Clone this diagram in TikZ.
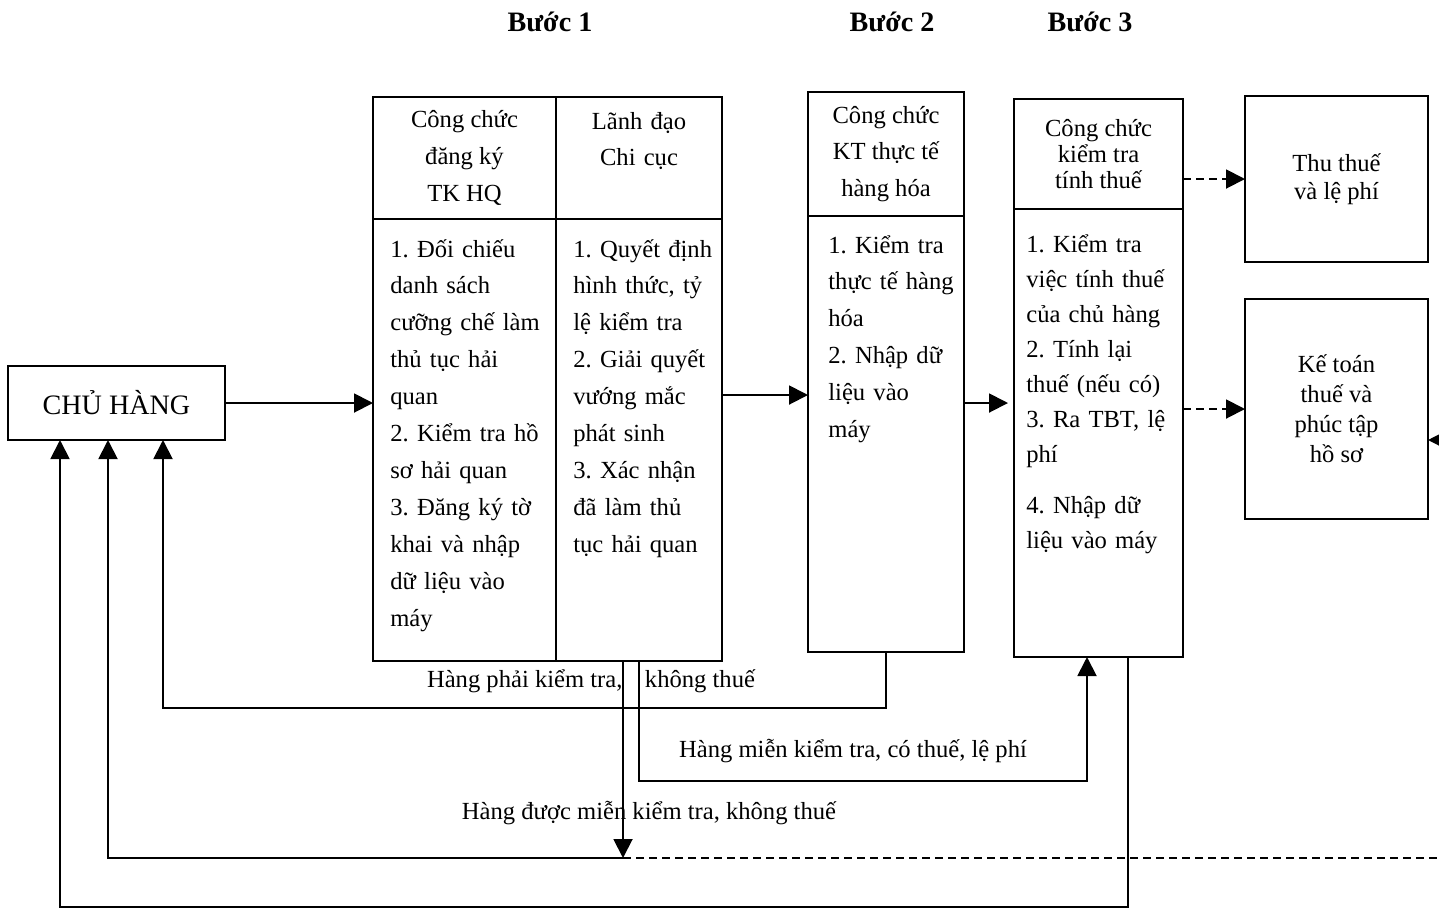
\documentclass[tikz,border=0pt]{standalone}
\usepackage{fontspec}
\setmainfont{Liberation Serif}
\usepackage{tikz}
\usetikzlibrary{arrows.meta,positioning}
\frenchspacing
\tikzset{
    cell/.style={rectangle, draw, line width=1.1pt, inner sep=0pt, outer sep=0pt},
    hdr/.style={align=center},
    bodytext/.style={align=left, text width=36mm, inner sep=0pt, anchor=base west},
    note/.style={inner sep=0pt, anchor=base},
    steptitle/.style={font=\fontsize{16}{19}\selectfont\bfseries},
    flow/.style={-{Triangle[length=3.8mm, width=3.8mm]}, line width=1.1pt},
    dflow/.style={line width=1.1pt, dash pattern=on 1.6mm off 1mm},
}

\begin{document}
\begin{tikzpicture}[x=0.2mm, y=-0.2mm, font=\fontsize{14}{21}\selectfont\frenchspacing]
    \useasboundingbox (0,0) rectangle (1439,910);

    % step titles
    \node[steptitle] (b1) at (550,22) {Bước 1};
    \node[steptitle] (b2) at (892,22) {Bước 2};
    \node[steptitle] (b3) at (1090,22) {Bước 3};

    \node[cell, anchor=north west, minimum width=43.4mm, minimum height=14.8mm, font=\fontsize{16}{19}\selectfont] (chu) at (8,366) {CHỦ HÀNG};

    % step 1
    \node[cell, hdr, anchor=north west, minimum width=36.6mm, minimum height=24.4mm] (s1hA) at (373,97) {Công chức\\đăng ký\\TK HQ};
    \node[cell, right=0pt of s1hA, minimum width=33.2mm, minimum height=24.4mm] (s1hB) {};
    \node[cell, below=0pt of s1hA, minimum width=36.6mm, minimum height=88.4mm] (s1bA) {};
    \node[cell, below=0pt of s1hB, minimum width=33.2mm, minimum height=88.4mm] (s1bB) {};
    \node[hdr, text width=30mm, inner sep=0pt, anchor=base] (s1tB) at (639,129) {Lãnh đạo\\Chi cục};
    \node[bodytext] (s1bodyA) at (390,257) {1. Đối chiếu\\danh sách\\cưỡng chế làm\\thủ tục hải\\quan\\2. Kiểm tra hồ\\sơ hải quan\\3. Đăng ký tờ\\khai và nhập\\dữ liệu vào\\máy};
    \node[bodytext] (s1bodyB) at (573,257) {1. Quyết định\\hình thức, tỷ\\lệ kiểm tra\\2. Giải quyết\\vướng mắc\\phát sinh\\3. Xác nhận\\đã làm thủ\\tục hải quan};

    % step 2
    \node[cell, hdr, anchor=north west, minimum width=31.2mm, minimum height=24.8mm] (s2h) at (808,92) {Công chức\\KT thực tế\\hàng hóa};
    \node[cell, below=0pt of s2h, minimum width=31.2mm, minimum height=87.2mm] (s2b) {};
    \node[bodytext] (s2body) at (828,253) {1. Kiểm tra\\thực tế hàng\\hóa\\2. Nhập dữ\\liệu vào\\máy};

    % step 3
    \node[cell, hdr, anchor=north west, minimum width=33.8mm, minimum height=22mm, font=\fontsize{14}{15}\selectfont] (s3h) at (1014,99) {Công chức\\kiểm tra\\tính thuế};
    \node[cell, below=0pt of s3h, minimum width=33.8mm, minimum height=89.6mm] (s3b) {};
    \node[bodytext, font=\fontsize{14}{20}\selectfont] (s3body) at (1026,252) {1. Kiểm tra\\việc tính thuế\\của chủ hàng\\2. Tính lại\\thuế (nếu có)\\3. Ra TBT, lệ\\phí\\[3mm]4. Nhập dữ\\liệu vào máy};

    \node[cell, hdr, anchor=north west, minimum width=36.6mm, minimum height=33.2mm, font=\fontsize{14}{16}\selectfont] (thu) at (1245,96) {Thu thuế\\và lệ phí};
    \node[cell, hdr, below=7.4mm of thu, minimum width=36.6mm, minimum height=44mm, font=\fontsize{14}{17}\selectfont] (ketoan) {Kế toán\\thuế và\\phúc tập\\hồ sơ};

    % forward flow
    \draw[flow] (chu.east) -- (chu.east -| s1bA.west);
    \draw[flow] ([yshift=9mm]s1bB.east) -- ([yshift=9mm]s1bB.east -| s2b.west);
    \draw[flow, shorten >=1.2mm] ([yshift=6.2mm]s2b.east) -- ([yshift=6.2mm]s2b.east -| s3b.west);
    \draw[flow, dflow] (thu.west -| s3h.east) -- (thu.west);
    \draw[flow, dflow] (ketoan.west -| s3b.east) -- (ketoan.west);
    \coordinate (rin) at (1439,440);
    \draw[flow] (rin) -- (rin -| ketoan.east);

    % return paths
    \draw[flow] (s2b.south) -- ++(0,56) -| ([xshift=9.3mm]chu.south);
    \draw[flow] (s1bB.south) -- ++(0,120) -| ([xshift=-2.3mm]s3b.south);
    \coordinate (drop) at (623,858);
    \coordinate (redge) at (1439,858);
    \draw[flow] (s1bB.south -| drop) -- (drop);
    \draw[flow] (drop) -| ([xshift=-1.7mm]chu.south);
    \draw[dflow] (drop) -- (redge);
    \draw[flow] ([xshift=5.9mm]s3b.south) -- ++(0,250) -| ([xshift=-11.3mm]chu.south);

    \node[note] (n1) at (591,687) {Hàng phải kiểm tra,\hspace{4.5mm}không thuế};
    \node[note] (n2) at (853,757) {Hàng miễn kiểm tra, có thuế, lệ phí};
    \node[note] (n3) at (649,819) {Hàng được miễn kiểm tra, không thuế};
\end{tikzpicture}
\end{document}
